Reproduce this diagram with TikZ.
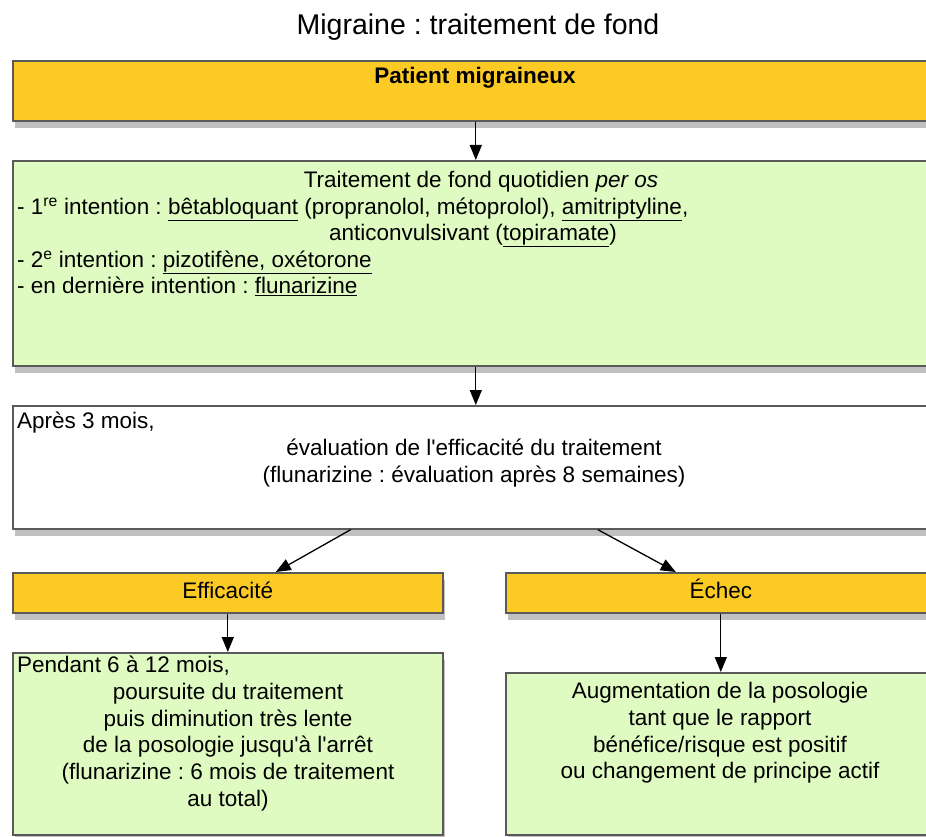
\documentclass[tikz,border=0pt]{standalone}
\usepackage{fontspec}
\setmainfont{Liberation Sans}
\usetikzlibrary{positioning,arrows.meta,shadows}
\frenchspacing

\definecolor{boxyellow}{RGB}{252,202,36}
\definecolor{boxgreen}{RGB}{224,251,194}
\definecolor{boxedge}{RGB}{90,90,90}

\begin{document}
\begin{tikzpicture}[
    x=1pt, y=-1pt,
    font=\fontsize{22.5}{26.7}\selectfont,
    box/.style={rectangle, draw=boxedge, line width=1.6pt, anchor=north west, inner sep=0pt,
        text height=16pt, text depth=5pt,
        drop shadow={shadow xshift=2pt, shadow yshift=-7pt, opacity=.35, fill=black!70}},
    yellowbox/.style={box, fill=boxyellow},
    greenbox/.style={box, fill=boxgreen},
    whitebox/.style={box, fill=white},
    lbl/.style={inner sep=0pt, text height=16pt, text depth=5pt},
    block/.style={inner sep=0pt, align=center},
    arrow/.style={-{Triangle[length=15pt,width=12pt]}, line width=1.3pt}
]

\path[use as bounding box, clip] (0,0) rectangle (926,837);
\fill[white] (0,0) rectangle (926,837);

% Title
\node[font=\fontsize{28.5}{34}\selectfont] (titre) at (478,27) {Migraine : traitement de fond};

% Patient
\node[yellowbox, minimum width=926pt, minimum height=60pt] (patient) at (12,60) {};
\node[lbl] (patienttxt) at (475,78) {\textbf{Patient migraineux}};

% Traitement de fond
\node[greenbox, minimum width=926pt, minimum height=205pt] (fond) at (12,160) {};
\node[lbl] (fondtitre) at (481,182) {Traitement de fond quotidien \textit{per os}};
\node[lbl, anchor=west] (premiere) at (17,209) {- 1\textsuperscript{re} intention : \underline{bêtabloquant} (propranolol, métoprolol), \underline{amitriptyline},};
\node[lbl] (premiere2) at (473,235) {anticonvulsivant (\underline{topiramate})};
\node[lbl, anchor=west] (deuxieme) at (17,262) {- 2\textsuperscript{e} intention : \underline{pizotifène, oxétorone}};
\node[lbl, anchor=west] (derniere) at (17,288) {- en dernière intention : \underline{flunarizine}};

% Evaluation
\node[whitebox, minimum width=926pt, minimum height=123pt] (eval) at (12,405) {};
\node[lbl, anchor=west] (apres) at (17,423) {Après 3 mois,};
\node[block] (evaltxt) at (474,463) {évaluation de l\textquotesingle efficacité du traitement\\(flunarizine : évaluation après 8 semaines)};

% Issues
\node[yellowbox, minimum width=430pt, minimum height=40pt] (eff) at (12,572) {Efficacité};
\node[yellowbox, minimum width=430pt, minimum height=40pt] (echec) at (505,572) {Échec};

% Suites
\node[greenbox, minimum width=430pt, minimum height=182pt] (suite) at (12,652) {};
\node[lbl, anchor=west] (pendant) at (17,667) {Pendant 6 à 12 mois,};
\node[block] (poursuite) at (228,747) {poursuite du traitement\\puis diminution très lente\\de la posologie jusqu\textquotesingle à l\textquotesingle arrêt\\(flunarizine : 6 mois de traitement\\au total)};

\node[greenbox, minimum width=430pt, minimum height=162pt] (augm) at (505,672) {};
\node[block] (augmtxt) at (720,733) {Augmentation de la posologie\\tant que le rapport\\bénéfice/risque est positif\\ou changement de principe actif};

% Arrows
\draw[arrow] (patient) -- (fond);
\draw[arrow] (fond) -- (eval);
\draw[arrow] ([xshift=-125pt]eval.south) -- ([xshift=48pt]eff.north);
\draw[arrow] ([xshift=122pt]eval.south) -- ([xshift=-45pt]echec.north);
\draw[arrow] (eff) -- (suite);
\draw[arrow] (echec) -- (augm);

\end{tikzpicture}
\end{document}
